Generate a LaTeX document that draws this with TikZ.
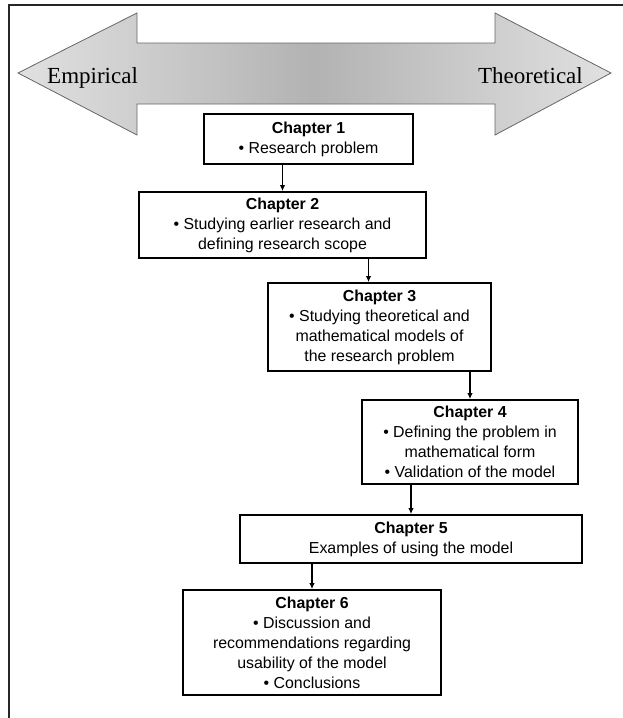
\documentclass[tikz,border=0pt]{standalone}
\usepackage{fontspec}
\newfontfamily\boxfont{Liberation Sans}
\newfontfamily\labelfont{Liberation Serif}
\usetikzlibrary{arrows.meta,shadings}

\begin{document}
\begin{tikzpicture}[x=1pt,y=-1pt,
  chapterbox/.style={draw=black,line width=1.8pt,fill=white,inner sep=2pt,
    align=center,font=\boxfont\fontsize{15.9}{20}\selectfont},
  flow/.style={draw=black,line width=1.3pt,-{Latex[length=6pt,width=5.5pt]}},
  scalelabel/.style={font=\labelfont\fontsize{23}{26}\selectfont,inner sep=0pt},
  bigarrow/.style={draw=black!60,line width=0.8pt,left color=black!12,
    right color=black!12,middle color=black!30}]
\useasboundingbox (0,0) rectangle (623,718);

% frame lines
\draw[line width=2pt,black!85] (9,718) -- (9,5) -- (623,5);

% double-headed arrow spanning empirical to theoretical
\path[bigarrow] (18,73) -- (137,13) -- (137,43) -- (495,43) -- (495,13)
  -- (611,73) -- (495,135) -- (495,104) -- (137,104) -- (137,135) -- cycle;
\node[scalelabel,anchor=base west] (emp) at (47,83) {Empirical};
\node[scalelabel,anchor=base east] (theo) at (583,83) {Theoretical};

% chapter boxes
\node[chapterbox,minimum width=209pt,minimum height=50pt] (b1) at (308.5,139)
  {\textbf{Chapter 1}\\• Research problem};
\node[chapterbox,minimum width=287pt,minimum height=66pt] (b2) at (282.5,225)
  {\textbf{Chapter 2}\\• Studying earlier research and\\defining research scope};
\node[chapterbox,minimum width=223pt,minimum height=88pt] (b3) at (379.5,327)
  {\textbf{Chapter 3}\\• Studying theoretical and\\mathematical models of\\the research problem};
\node[chapterbox,minimum width=216pt,minimum height=84pt] (b4) at (470,442)
  {\textbf{Chapter 4}\\• Defining the problem in\\mathematical form\\• Validation of the model};
\node[chapterbox,minimum width=342pt,minimum height=48pt] (b5) at (411,539)
  {\textbf{Chapter 5}\\Examples of using the model};
\node[chapterbox,minimum width=258pt,minimum height=105pt] (b6) at (312,642.5)
  {\textbf{Chapter 6}\\• Discussion and\\recommendations regarding\\usability of the model\\• Conclusions};

% connectors
\coordinate (a2x) at ([xshift=-11pt]b3.north);
\draw[flow] (b1.south -| b2.north) -- (b2.north);
\draw[flow] (b2.south -| a2x) -- (a2x);
\draw[flow] (b3.south -| b4.north) -- (b4.north);
\draw[flow] (b4.south -| b5.north) -- (b5.north);
\draw[flow] (b5.south -| b6.north) -- (b6.north);
\end{tikzpicture}
\end{document}
